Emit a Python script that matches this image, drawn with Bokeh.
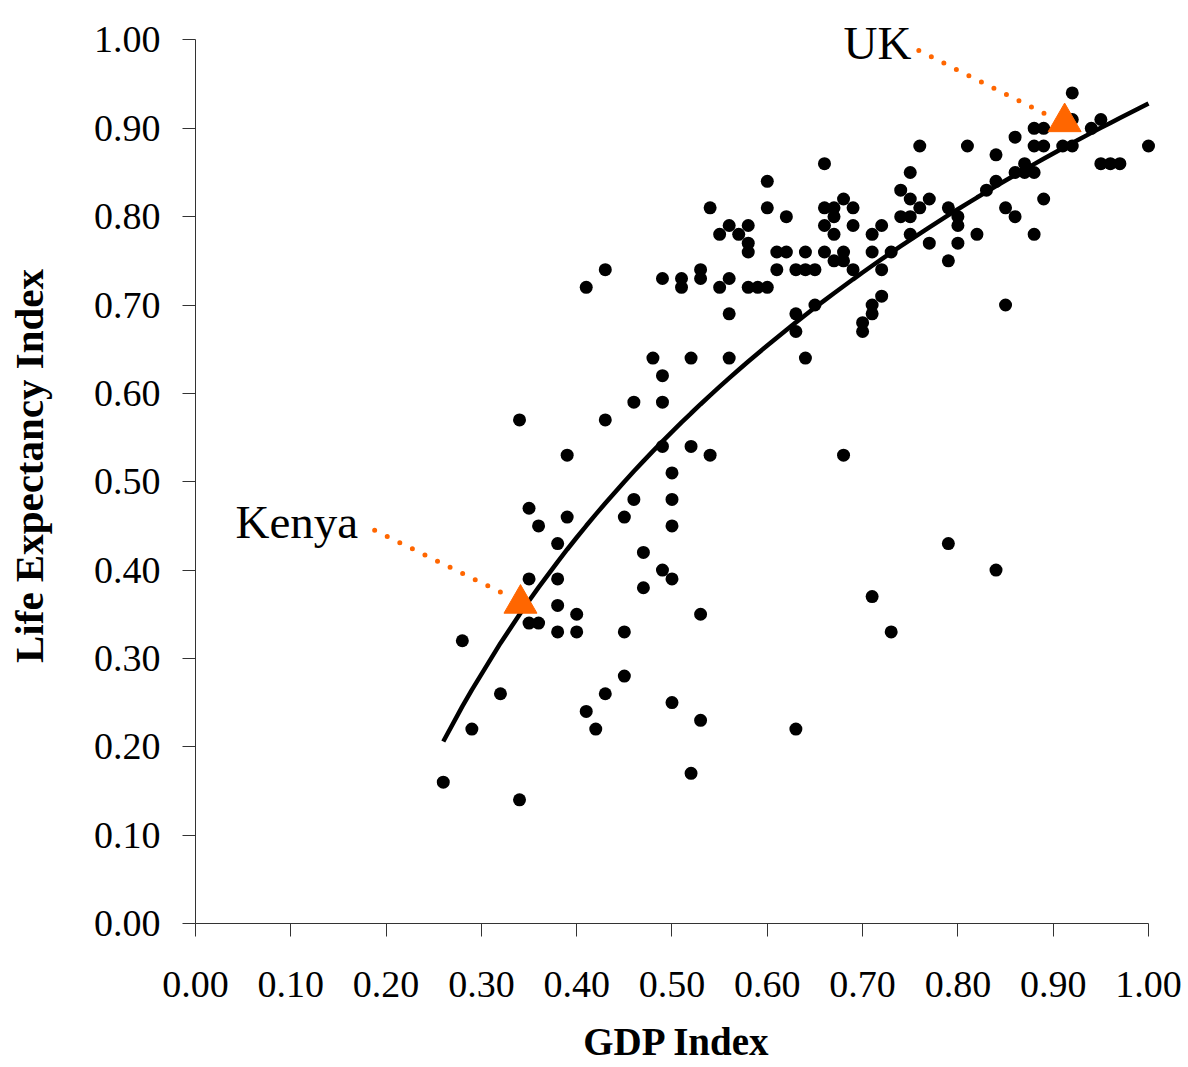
import numpy as np
from bokeh.plotting import figure
from bokeh.models import Range1d, FixedTicker, PrintfTickFormatter, Label, ColumnDataSource
from bokeh.embed import file_html
from bokeh.resources import INLINE

# ---- data ----
GDP_INDEX = [
    0.26, 0.28, 0.29, 0.32, 0.34, 0.34, 0.35, 0.36, 0.35, 0.35, 0.36, 0.38, 0.38, 0.38, 0.38,
    0.39, 0.39, 0.40, 0.40, 0.41, 0.41, 0.42, 0.43, 0.43, 0.43, 0.45, 0.45, 0.45, 0.46, 0.46,
    0.47, 0.47, 0.48, 0.49, 0.49, 0.49, 0.49, 0.49, 0.50, 0.50, 0.50, 0.50, 0.50, 0.51, 0.51,
    0.52, 0.52, 0.52, 0.53, 0.53, 0.53, 0.53, 0.54, 0.54, 0.55, 0.55, 0.56, 0.56, 0.56, 0.56,
    0.57, 0.58, 0.58, 0.58, 0.58, 0.59, 0.60, 0.60, 0.60, 0.61, 0.61, 0.62, 0.62, 0.63, 0.63,
    0.63, 0.63, 0.64, 0.64, 0.64, 0.65, 0.65, 0.66, 0.66, 0.66, 0.66, 0.67, 0.67, 0.67, 0.67,
    0.68, 0.68, 0.68, 0.68, 0.69, 0.69, 0.69, 0.70, 0.70, 0.71, 0.71, 0.71, 0.71, 0.71, 0.72,
    0.72, 0.72, 0.73, 0.73, 0.74, 0.74, 0.75, 0.75, 0.75, 0.75, 0.76, 0.76, 0.77, 0.77, 0.79,
    0.79, 0.79, 0.80, 0.80, 0.80, 0.81, 0.82, 0.83, 0.84, 0.84, 0.84, 0.85, 0.85, 0.86, 0.86,
    0.86, 0.87, 0.87, 0.88, 0.88, 0.88, 0.88, 0.89, 0.89, 0.89, 0.91, 0.92, 0.92, 0.92, 0.94,
    0.95, 0.95, 0.96, 0.97, 1.00,
]
LIFE_EXP_INDEX = [
    0.16, 0.32, 0.22, 0.26, 0.14, 0.57, 0.47, 0.45, 0.39, 0.34, 0.34, 0.43, 0.39, 0.36, 0.33,
    0.53, 0.46, 0.35, 0.33, 0.24, 0.72, 0.22, 0.74, 0.57, 0.26, 0.46, 0.33, 0.28, 0.59, 0.48,
    0.42, 0.38, 0.64, 0.73, 0.62, 0.59, 0.54, 0.40, 0.51, 0.48, 0.45, 0.39, 0.25, 0.73, 0.72,
    0.64, 0.54, 0.17, 0.74, 0.73, 0.35, 0.23, 0.53, 0.81, 0.78, 0.72, 0.79, 0.73, 0.69, 0.64,
    0.78, 0.79, 0.77, 0.76, 0.72, 0.72, 0.72, 0.84, 0.81, 0.76, 0.74, 0.80, 0.76, 0.74, 0.69,
    0.67, 0.22, 0.76, 0.74, 0.64, 0.74, 0.70, 0.86, 0.81, 0.79, 0.76, 0.81, 0.80, 0.78, 0.75,
    0.82, 0.76, 0.75, 0.53, 0.81, 0.79, 0.74, 0.68, 0.67, 0.78, 0.76, 0.70, 0.69, 0.37, 0.79,
    0.74, 0.71, 0.76, 0.33, 0.83, 0.80, 0.85, 0.82, 0.80, 0.78, 0.88, 0.81, 0.82, 0.77, 0.81,
    0.75, 0.43, 0.80, 0.79, 0.77, 0.88, 0.78, 0.83, 0.87, 0.84, 0.40, 0.81, 0.70, 0.89, 0.85,
    0.80, 0.86, 0.85, 0.90, 0.88, 0.85, 0.78, 0.90, 0.88, 0.82, 0.88, 0.94, 0.91, 0.88, 0.90,
    0.91, 0.86, 0.86, 0.86, 0.88,
]
TICKS = [0.0, 0.1, 0.2, 0.3, 0.4, 0.5, 0.6, 0.7, 0.8, 0.9, 1.0]

# logarithmic trend line  y = a + b*ln(x)
TREND_A = 0.928
TREND_B = 0.536

HIGHLIGHT_NAMES = ["Kenya", "UK"]
HIGHLIGHT_GDP = [0.341, 0.912]
HIGHLIGHT_LIFE = [0.362, 0.907]

# annotation placement (data units)
LABEL_X = [0.042, 0.680]
LABEL_Y = [0.454, 0.996]
LEADER_X0 = [0.188, 0.759]
LEADER_Y0 = [0.445, 0.988]
LEADER_X1 = [0.326, 0.894]
LEADER_Y1 = [0.372, 0.915]

ORANGE = "#FF6600"
FONT = "Liberation Serif"

# frame extends a little beyond 1.0 so that the labels/markers near the edge are not clipped;
# the axes themselves are bounded to 0..1
p = figure(width=1188, height=1067, output_backend="svg", toolbar_location=None,
           x_range=Range1d(0, 1.0105), y_range=Range1d(0, 1.0356),
           min_border_left=195, min_border_right=30, min_border_top=8, min_border_bottom=144)
p.outline_line_color = None
p.grid.visible = False
p.background_fill_color = "white"

for ax in (p.xaxis[0], p.yaxis[0]):
    ax.bounds = (0, 1)
    ax.ticker = FixedTicker(ticks=TICKS)
    ax.formatter = PrintfTickFormatter(format="%.2f")
    ax.axis_line_color = "#333333"
    ax.major_tick_line_color = "#333333"
    ax.major_tick_out = 13
    ax.major_tick_in = 0
    ax.minor_tick_out = 0
    ax.minor_tick_in = 0
    ax.major_label_text_font = FONT
    ax.major_label_text_font_size = "38px"
    ax.major_label_text_color = "black"
    ax.axis_label_text_font = FONT
    ax.axis_label_text_font_style = "bold"
    ax.axis_label_text_color = "black"

p.xaxis.axis_label = "GDP Index"
p.yaxis.axis_label = "Life Expectancy Index"
p.xaxis.axis_label_text_font_size = "39px"
p.yaxis.axis_label_text_font_size = "41px"
p.xaxis.major_label_standoff = 35
p.xaxis.axis_label_standoff = 20
p.yaxis.major_label_standoff = 22
p.yaxis.axis_label_standoff = 39

# trend line
xs = np.array(sorted(set(GDP_INDEX)))
ys = TREND_A + TREND_B * np.log(xs)
p.line(xs, ys, line_color="black", line_width=4.5)

# scatter
src = ColumnDataSource(data=dict(x=GDP_INDEX, y=LIFE_EXP_INDEX))
p.scatter("x", "y", source=src, size=13, fill_color="black", line_color=None)

# dotted leader lines
p.segment(x0=LEADER_X0, y0=LEADER_Y0, x1=LEADER_X1, y1=LEADER_Y1,
          line_color=ORANGE, line_width=5, line_dash="0 14", line_cap="round")

# highlighted countries
p.scatter(HIGHLIGHT_GDP, HIGHLIGHT_LIFE, marker="triangle", size=33,
          fill_color=ORANGE, line_color=ORANGE, line_width=1)

for name, lx, ly in zip(HIGHLIGHT_NAMES, LABEL_X, LABEL_Y):
    p.add_layout(Label(x=lx, y=ly, text=name, text_font=FONT, text_font_size="47px",
                       text_color="black", text_baseline="alphabetic", text_align="left"))

open("out.html", "w").write(file_html(p, INLINE))
